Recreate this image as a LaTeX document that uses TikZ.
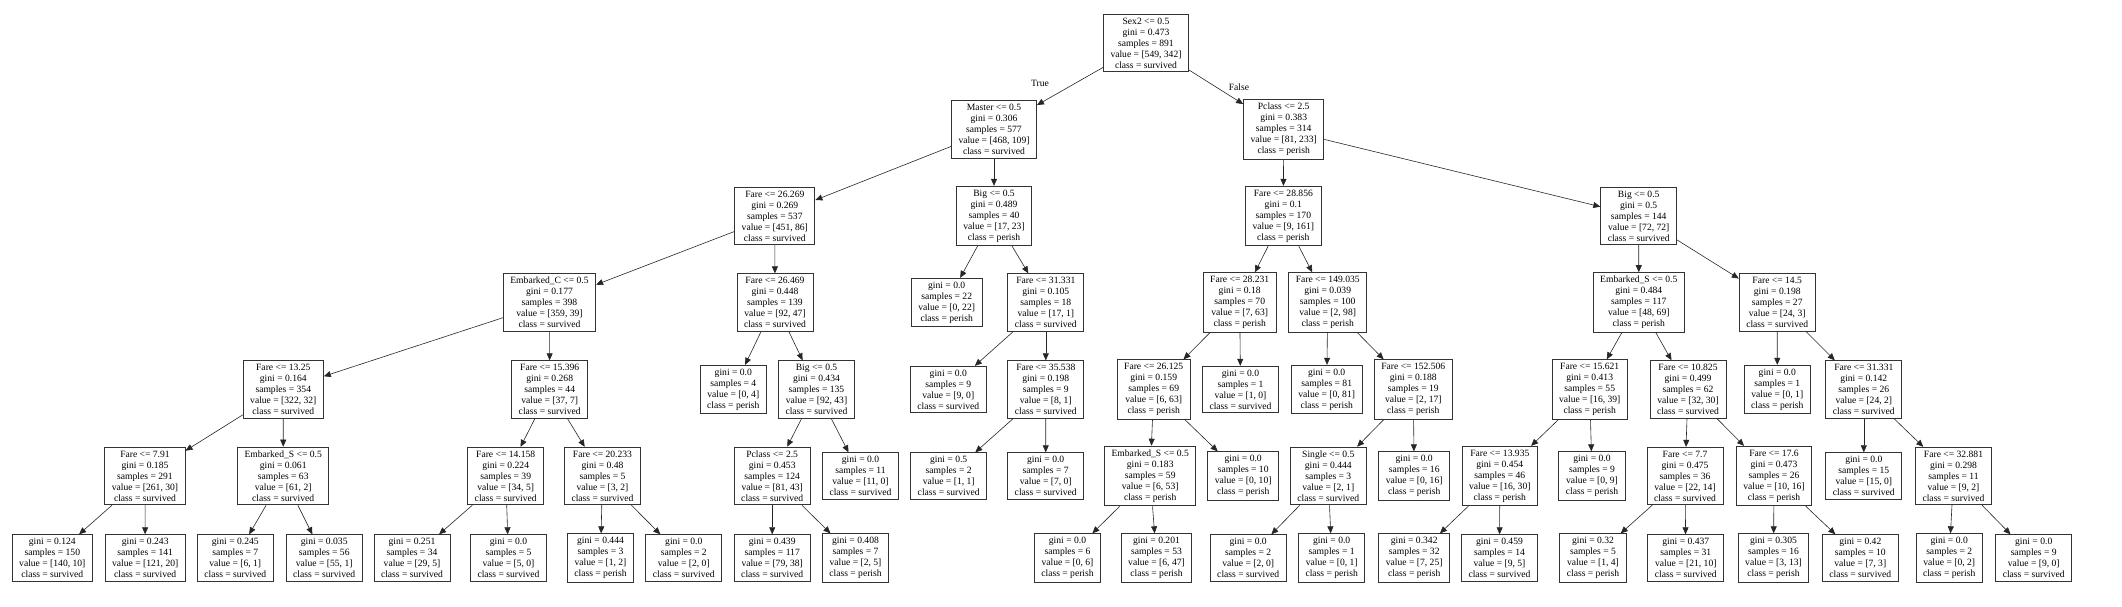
\documentclass[tikz,border=0pt]{standalone}
\usepackage{fontspec}
\setmainfont{Liberation Serif}
\usepackage{tikz}
\usetikzlibrary{arrows.meta}
\tikzset{
  treebox/.style={draw=black!80,line width=0.9pt,align=center,inner xsep=7pt,inner ysep=3.5pt,
    font=\fontsize{9.6}{11}\selectfont},
  treeedge/.style={-{Triangle[length=7pt,width=6pt]},line width=0.6pt,black!85},
  edgelabel/.style={font=\fontsize{9.6}{11}\selectfont}
}
% split node: name, x, y, rule, gini, samples, value, class
\newcommand{\splitbox}[8]{%
  \node[treebox] (#1) at (#2,-#3) {#4\\gini = #5\\samples = #6\\value = [#7]\\class = #8};}
% leaf node: name, x, y, gini, samples, value, class
\newcommand{\leafbox}[7]{%
  \node[treebox] (#1) at (#2,-#3) {gini = #4\\samples = #5\\value = [#6]\\class = #7};}

\begin{document}
\begin{tikzpicture}[x=1pt,y=1pt]
  \useasboundingbox (0,0) rectangle (2122,-606);
  % level 0
  \splitbox{n0}{1146}{43}{Sex2 <= 0.5}{0.473}{891}{549, 342}{survived}
  % level 1
  \splitbox{n1}{994}{129.5}{Master <= 0.5}{0.306}{577}{468, 109}{survived}
  \splitbox{n2}{1283.7}{129.5}{Pclass <= 2.5}{0.383}{314}{81, 233}{perish}
  % level 2
  \splitbox{n3}{774.8}{216}{Fare <= 26.269}{0.269}{537}{451, 86}{survived}
  \splitbox{n4}{994}{216}{Big <= 0.5}{0.489}{40}{17, 23}{perish}
  \splitbox{n5}{1283.3}{216}{Fare <= 28.856}{0.1}{170}{9, 161}{perish}
  \splitbox{n6}{1638.7}{216}{Big <= 0.5}{0.5}{144}{72, 72}{survived}
  % level 3
  \splitbox{n7}{549.5}{302.5}{Embarked\_C <= 0.5}{0.177}{398}{359, 39}{survived}
  \splitbox{n8}{775}{302.5}{Fare <= 26.469}{0.448}{139}{92, 47}{survived}
  \leafbox{n9}{946.7}{302.5}{0.0}{22}{0, 22}{perish}
  \splitbox{n10}{1045.8}{302.5}{Fare <= 31.331}{0.105}{18}{17, 1}{survived}
  \splitbox{n11}{1239.7}{302.5}{Fare <= 28.231}{0.18}{70}{7, 63}{perish}
  \splitbox{n12}{1327.7}{302.5}{Fare <= 149.035}{0.039}{100}{2, 98}{perish}
  \splitbox{n13}{1638.8}{302.5}{Embarked\_S <= 0.5}{0.484}{117}{48, 69}{perish}
  \splitbox{n14}{1777.2}{302.5}{Fare <= 14.5}{0.198}{27}{24, 3}{survived}
  % level 4
  \splitbox{n15}{283.3}{389.5}{Fare <= 13.25}{0.164}{354}{322, 32}{survived}
  \splitbox{n16}{549.7}{389.5}{Fare <= 15.396}{0.268}{44}{37, 7}{survived}
  \leafbox{n17}{733.3}{389.5}{0.0}{4}{0, 4}{perish}
  \splitbox{n18}{816.5}{389.5}{Big <= 0.5}{0.434}{135}{92, 43}{survived}
  \leafbox{n19}{948.3}{389.5}{0.0}{9}{9, 0}{survived}
  \splitbox{n20}{1045.8}{389.5}{Fare <= 35.538}{0.198}{9}{8, 1}{survived}
  \splitbox{n21}{1153.7}{389.5}{Fare <= 26.125}{0.159}{69}{6, 63}{perish}
  \leafbox{n22}{1240.5}{389.5}{0.0}{1}{1, 0}{survived}
  \leafbox{n23}{1326.7}{389.5}{0.0}{81}{0, 81}{perish}
  \splitbox{n24}{1413.3}{389.5}{Fare <= 152.506}{0.188}{19}{2, 17}{perish}
  \splitbox{n25}{1589.7}{389.5}{Fare <= 15.621}{0.413}{55}{16, 39}{perish}
  \splitbox{n26}{1688}{389.5}{Fare <= 10.825}{0.499}{62}{32, 30}{survived}
  \leafbox{n27}{1777.3}{389.5}{0.0}{1}{0, 1}{perish}
  \splitbox{n28}{1863.8}{389.5}{Fare <= 31.331}{0.142}{26}{24, 2}{survived}
  % level 5
  \splitbox{n29}{145}{476}{Fare <= 7.91}{0.185}{291}{261, 30}{survived}
  \splitbox{n30}{283.2}{476}{Embarked\_S <= 0.5}{0.061}{63}{61, 2}{survived}
  \splitbox{n31}{505.7}{476}{Fare <= 14.158}{0.224}{39}{34, 5}{survived}
  \splitbox{n32}{602.5}{476}{Fare <= 20.233}{0.48}{5}{3, 2}{survived}
  \splitbox{n33}{772.2}{476}{Pclass <= 2.5}{0.453}{124}{81, 43}{survived}
  \leafbox{n34}{860.5}{476}{0.0}{11}{11, 0}{survived}
  \leafbox{n35}{948.7}{476}{0.5}{2}{1, 1}{survived}
  \leafbox{n36}{1045.7}{476}{0.0}{7}{7, 0}{survived}
  \splitbox{n37}{1150.2}{476}{Embarked\_S <= 0.5}{0.183}{59}{6, 53}{perish}
  \leafbox{n38}{1243.2}{476}{0.0}{10}{0, 10}{perish}
  \splitbox{n39}{1328.3}{476}{Single <= 0.5}{0.444}{3}{2, 1}{survived}
  \leafbox{n40}{1414.2}{476}{0.0}{16}{0, 16}{perish}
  \splitbox{n41}{1499.8}{476}{Fare <= 13.935}{0.454}{46}{16, 30}{perish}
  \leafbox{n42}{1592}{476}{0.0}{9}{0, 9}{perish}
  \splitbox{n43}{1685}{476}{Fare <= 7.7}{0.475}{36}{22, 14}{survived}
  \splitbox{n44}{1774}{476}{Fare <= 17.6}{0.473}{26}{10, 16}{perish}
  \leafbox{n45}{1863.8}{476}{0.0}{15}{15, 0}{survived}
  \splitbox{n46}{1953.5}{476}{Fare <= 32.881}{0.298}{11}{9, 2}{survived}
  % level 6
  \leafbox{n47}{52.3}{558}{0.124}{150}{140, 10}{survived}
  \leafbox{n48}{145.2}{558}{0.243}{141}{121, 20}{survived}
  \leafbox{n49}{235.3}{558}{0.245}{7}{6, 1}{survived}
  \leafbox{n50}{324.2}{558}{0.035}{56}{55, 1}{survived}
  \leafbox{n51}{412}{558}{0.251}{34}{29, 5}{survived}
  \leafbox{n52}{508.5}{558}{0.0}{5}{5, 0}{survived}
  \leafbox{n53}{600.5}{558}{0.444}{3}{1, 2}{perish}
  \leafbox{n54}{683.8}{558}{0.0}{2}{2, 0}{survived}
  \leafbox{n55}{772.2}{558}{0.439}{117}{79, 38}{survived}
  \leafbox{n56}{855.5}{558}{0.408}{7}{2, 5}{perish}
  \leafbox{n57}{1067.5}{558}{0.0}{6}{0, 6}{perish}
  \leafbox{n58}{1156.5}{558}{0.201}{53}{6, 47}{perish}
  \leafbox{n59}{1248.2}{558}{0.0}{2}{2, 0}{survived}
  \leafbox{n60}{1331.7}{558}{0.0}{1}{0, 1}{perish}
  \leafbox{n61}{1414.2}{558}{0.342}{32}{7, 25}{perish}
  \leafbox{n62}{1499.5}{558}{0.459}{14}{9, 5}{survived}
  \leafbox{n63}{1593}{558}{0.32}{5}{1, 4}{perish}
  \leafbox{n64}{1685.8}{558}{0.437}{31}{21, 10}{survived}
  \leafbox{n65}{1773.5}{558}{0.305}{16}{3, 13}{perish}
  \leafbox{n66}{1860.3}{558}{0.42}{10}{7, 3}{survived}
  \leafbox{n67}{1949.2}{558}{0.0}{2}{0, 2}{perish}
  \leafbox{n68}{2033.7}{558}{0.0}{9}{9, 0}{survived}
  % branch labels
  \node[edgelabel] (ltrue) at (1040,-83) {True};
  \node[edgelabel] (lfalse) at (1239,-87) {False};
  % edges
  \foreach \p/\c in {n0/n1,n0/n2,n1/n3,n1/n4,n2/n5,n2/n6,n3/n7,n3/n8,n4/n9,n4/n10,
      n5/n11,n5/n12,n6/n13,n6/n14,n7/n15,n7/n16,n8/n17,n8/n18,n10/n19,n10/n20,
      n11/n21,n11/n22,n12/n23,n12/n24,n13/n25,n13/n26,n14/n27,n14/n28,
      n15/n29,n15/n30,n16/n31,n16/n32,n18/n33,n18/n34,n20/n35,n20/n36,
      n21/n37,n21/n38,n24/n39,n24/n40,n25/n41,n25/n42,n26/n43,n26/n44,
      n28/n45,n28/n46,n29/n47,n29/n48,n30/n49,n30/n50,n31/n51,n31/n52,
      n32/n53,n32/n54,n33/n55,n33/n56,n37/n57,n37/n58,n39/n59,n39/n60,
      n41/n61,n41/n62,n43/n63,n43/n64,n44/n65,n44/n66,n46/n67,n46/n68}
    \draw[treeedge] (\p) -- (\c);
\end{tikzpicture}
\end{document}
